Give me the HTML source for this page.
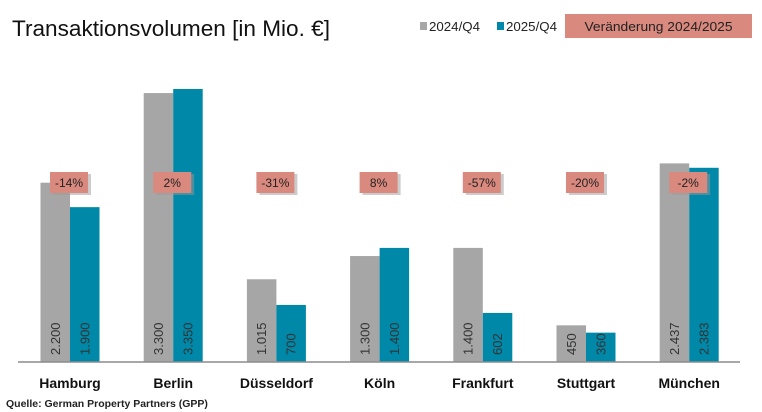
<!DOCTYPE html>
<html><head><meta charset="utf-8"><style>
body{margin:0;background:#fff;font-family:"Liberation Sans",sans-serif;}
svg{display:block}
</style></head><body>
<svg id="chart" width="762" height="412" xmlns="http://www.w3.org/2000/svg">
<text x="12" y="36" font-size="22" fill="#111" textLength="318" lengthAdjust="spacingAndGlyphs">Transaktionsvolumen [in Mio. €]</text>
<g>
<rect x="420" y="22" width="7" height="8" fill="#a6a6a6"/>
<text x="429" y="31" font-size="13" fill="#222" textLength="51" lengthAdjust="spacingAndGlyphs">2024/Q4</text>
<rect x="497" y="22" width="7" height="8" fill="#0088a8"/>
<text x="506" y="31" font-size="13" fill="#222" textLength="51" lengthAdjust="spacingAndGlyphs">2025/Q4</text>
<rect x="565" y="14" width="187" height="24" fill="#d9897e"/>
<text x="658.5" y="31" font-size="13" fill="#222" text-anchor="middle" textLength="148" lengthAdjust="spacingAndGlyphs">Veränderung 2024/2025</text>
</g>
<g id="plot"></g>
<line x1="18" y1="362" x2="740" y2="362" stroke="#8c8c8c" stroke-width="1.5"/>
<text x="6" y="407" font-size="10.5" font-weight="bold" fill="#222">Quelle: German Property Partners (GPP)</text>
</svg>
<script>
const categories=["Hamburg","Berlin","Düsseldorf","Köln","Frankfurt","Stuttgart","München"];
const values2024=[2200,3300,1015,1300,1400,450,2437];
const values2025=[1900,3350,700,1400,602,360,2383];
const labels2024=["2.200","3.300","1.015","1.300","1.400","450","2.437"];
const labels2025=["1.900","3.350","700","1.400","602","360","2.383"];
const changeLabels=["-14%","2%","-31%","8%","-57%","-20%","-2%"];
const NS="http://www.w3.org/2000/svg";
const g=document.getElementById('plot');
const baseY=362, k=0.0815, bw=29.5;
function xc(i){return 70+i*103.2;}
function yv(v){return baseY-v*k;}
function mk(t,a){const e=document.createElementNS(NS,t);for(const n in a)e.setAttribute(n,a[n]);g.appendChild(e);return e;}
categories.forEach((c,i)=>{
  const cx=xc(i);
  const r1=mk('rect',{x:cx-bw,y:yv(values2024[i]),width:bw,height:baseY-yv(values2024[i]),fill:'#a6a6a6'});
  
  
  const r2=mk('rect',{x:cx,y:yv(values2025[i]),width:bw,height:baseY-yv(values2025[i]),fill:'#0088a8'});
  
  
  [[labels2024[i],cx-bw/2],[labels2025[i],cx+bw/2]].forEach((p,j)=>{
    const t=mk('text',{x:0,y:0,'font-size':13,fill:'#333',transform:`translate(${p[1]+4.5},355) rotate(-90)`});
    t.textContent=p[0];
    
    
  });
  const sh=mk('rect',{x:cx-17,y:174,width:38,height:21,fill:'#999',opacity:0.5});
  
  
  const b=mk('rect',{x:cx-20,y:172,width:38,height:21,fill:'#d9897e'});
  
  
  const ct=mk('text',{x:cx-1,y:187,'font-size':12,fill:'#222','text-anchor':'middle'});
  ct.textContent=changeLabels[i];
  
  
  const cl=mk('text',{x:cx,y:388,'font-size':14,'font-weight':'bold',fill:'#111','text-anchor':'middle'});
  cl.textContent=c;
  
  
});
</script>
</body></html>
